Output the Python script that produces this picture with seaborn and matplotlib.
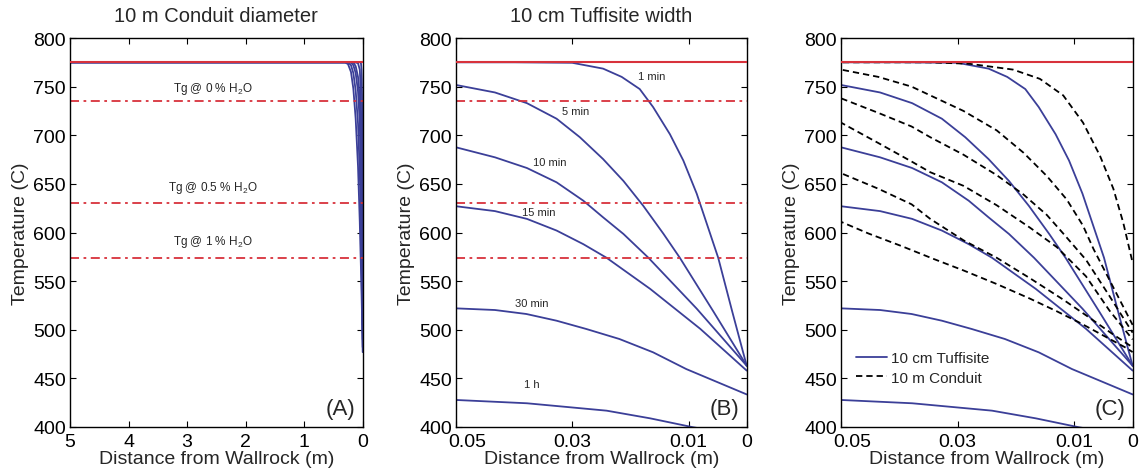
import numpy as np
import pandas as pd
import matplotlib
matplotlib.use("Agg")
import matplotlib.pyplot as plt
from matplotlib.lines import Line2D
from matplotlib.transforms import ScaledTranslation
import seaborn as sns

# ---------------- data ----------------
# Tuffisite (10 cm) temperature profiles: distance from wallrock (m), temperature (C)
t1_x = [0.05, 0.04, 0.03, 0.0247, 0.0215, 0.0184, 0.0161, 0.0132, 0.0109, 0.0086, 0.0063, 0.0049, 0.0025, 0.0]
t1_T = [775, 775, 774.5, 768.5, 760, 747.5, 729, 701, 674, 640, 599, 574, 519, 463]
t5_x = [0.05, 0.0433, 0.0378, 0.0327, 0.0287, 0.0247, 0.0212, 0.0178, 0.0143, 0.0115, 0.0057, 0.0]
t5_T = [751.7, 744, 733, 717, 698, 675.5, 653, 627.5, 598.5, 574, 518.5, 463]
t10_x = [0.05, 0.0433, 0.0378, 0.0327, 0.0281, 0.0247, 0.0212, 0.0169, 0.0086, 0.0]
t10_T = [687.6, 677.3, 666.3, 651.6, 632.7, 615.6, 598.5, 574, 521.7, 463]
t15_x = [0.05, 0.0433, 0.0378, 0.0327, 0.0281, 0.0241, 0.0166, 0.0080, 0.0]
t15_T = [627, 622, 614, 602, 588, 574, 542, 501, 458]
t30_x = [0.05, 0.0433, 0.0379, 0.0327, 0.0276, 0.0219, 0.0161, 0.0104, 0.0]
t30_T = [522, 520.3, 516.2, 509.3, 500.8, 490.5, 476.8, 459.6, 433.5]
t60_x = [0.05, 0.0378, 0.0241, 0.0166, 0.0092, 0.0080]
t60_T = [427.8, 424.4, 416.8, 408.9, 399.7, 398.5]

tuff_labels = ["1 min", "5 min", "10 min", "15 min", "30 min", "1 h"]
tuff_label_x = [0.0163, 0.0294, 0.0338, 0.0358, 0.0370, 0.0370]
tuff_label_T = [761, 725, 673, 621, 528, 444]

# Conduit (10 m) temperature profiles
c1_x = [5.0, 0.05, 0.035, 0.028, 0.0205, 0.0159, 0.0119, 0.0085, 0.0056, 0.0033, 0.0016, 0.0]
c1_T = [775, 775, 775, 773.5, 767.5, 758, 741, 713, 679, 645, 610, 569]
c2_x = [5.0, 0.12, 0.08, 0.05, 0.0436, 0.0379, 0.0347, 0.029, 0.0233, 0.0187, 0.0147, 0.0113, 0.0085, 0.0067, 0.003, 0.0]
c2_T = [775, 775, 774, 767.5, 760, 750, 741, 725, 705, 682, 658, 634, 607, 583, 540, 505]
c3_x = [5.0, 0.16, 0.12, 0.08, 0.05, 0.0436, 0.0379, 0.0347, 0.029, 0.0233, 0.0187, 0.0147, 0.0119, 0.008, 0.004, 0.0]
c3_T = [775, 775, 771, 760, 738, 723, 709, 698, 680, 659, 639, 618, 599, 572, 535, 497]
c4_x = [5.0, 0.2, 0.16, 0.12, 0.08, 0.05, 0.0436, 0.0379, 0.0347, 0.029, 0.0233, 0.0176, 0.013, 0.008, 0.004, 0.0]
c4_T = [775, 775, 772, 764, 745, 713, 692, 673, 662, 648, 628, 605, 585, 555, 520, 490]
c5_x = [5.0, 0.25, 0.2, 0.16, 0.12, 0.08, 0.05, 0.0436, 0.0379, 0.0347, 0.029, 0.0233, 0.0176, 0.0119, 0.0073, 0.0033, 0.0]
c5_T = [775, 775, 772, 764, 746, 712, 661, 645, 629, 614, 592, 574, 553, 531, 512, 495, 482]
c6_x = [5.0, 0.3, 0.25, 0.2, 0.16, 0.12, 0.08, 0.05, 0.0453, 0.0396, 0.0342, 0.029, 0.0233, 0.0176, 0.013, 0.009, 0.005, 0.001, 0.0]
c6_T = [775, 775, 773, 765, 748, 717, 668, 611, 599, 586, 573, 561, 547, 532, 519, 507, 494, 481, 477]

T_init = 775
Tg_values = [735, 630, 574]
Tg_labels = ["Tg @ 0 % H$_2$O", "Tg @ 0.5 % H$_2$O", "Tg @ 1 % H$_2$O"]
Tg_label_T = [749, 647, 591]

titles = ["10 m Conduit diameter", "10 cm Tuffisite width", ""]
panel_tags = ["(A)", "(B)", "(C)"]
xlabel = "Distance from Wallrock (m)"
ylabel = "Temperature (C)"
yticks = [400, 450, 500, 550, 600, 650, 700, 750, 800]
xticksA = [5, 4, 3, 2, 1, 0]
xticksB = [0.05, 0.03, 0.01, 0]
xticklabelsB = ["0.05", "0.03", "0.01", "0"]
legend_labels = ["10 cm Tuffisite", "10 m Conduit"]

tuff = [(t1_x, t1_T), (t5_x, t5_T), (t10_x, t10_T), (t15_x, t15_T), (t30_x, t30_T), (t60_x, t60_T)]
cond = [(c1_x, c1_T), (c2_x, c2_T), (c3_x, c3_T), (c4_x, c4_T), (c5_x, c5_T), (c6_x, c6_T)]

# ---------------- style ----------------
sns.set_style("ticks")
plt.rcParams["font.family"] = ["Liberation Sans", "DejaVu Sans"]
plt.rcParams["mathtext.fontset"] = "custom"
plt.rcParams["mathtext.rm"] = "Liberation Sans"
plt.rcParams["mathtext.it"] = "Liberation Sans:italic"
plt.rcParams["xtick.direction"] = "in"
plt.rcParams["ytick.direction"] = "in"

BLUE = "#3b3f98"
RED = "#d8323c"
DASHDOT = (0, (5, 2.5, 1.5, 2.5))
DASH = (0, (3.5, 2.2))

fig = plt.figure(figsize=(11.44, 4.77), dpi=100)
W, H = 1144, 477
ax_px = [(70, 292.7), (456, 290.7), (841, 291.6)]
axes = [fig.add_axes([l / W, 1 - 428 / H, w / W, 389 / H]) for l, w in ax_px]

def curve(ax, x, y, **kw):
    sns.lineplot(x=x, y=y, ax=ax, sort=False, estimator=None, legend=False, **kw)

# Panel A
axA = axes[0]
for x, y in cond:
    curve(axA, x, y, color=BLUE, lw=1.3)
# Panel B
axB = axes[1]
for x, y in tuff:
    curve(axB, x, y, color=BLUE, lw=1.3)
for lab, lx, ly in zip(tuff_labels, tuff_label_x, tuff_label_T):
    axB.text(lx, ly, lab, fontsize=8, ha="center", va="center")
# Panel C
axC = axes[2]
for x, y in tuff:
    curve(axC, x, y, color=BLUE, lw=1.3)
for x, y in cond:
    curve(axC, x, y, color="black", lw=1.3, linestyle=DASH)

for i, ax in enumerate(axes):
    ax.axhline(T_init, color=RED, lw=1.5, zorder=3)
    if i < 2:
        for tg in Tg_values:
            ax.axhline(tg, color=RED, lw=1.3, linestyle=DASHDOT)
    ax.set_ylim(400, 800)
    ax.set_yticks(yticks)
    if i == 0:
        ax.set_xlim(5, 0)
        ax.set_xticks(xticksA)
        ax.set_xticklabels([str(t) for t in xticksA])
    else:
        ax.set_xlim(0.05, 0)
        ax.set_xticks(xticksB)
        ax.set_xticklabels(xticklabelsB)
    ax.tick_params(axis="both", which="both", top=True, right=True, labelsize=14,
                   length=4, width=0.8, pad=4, colors="black")
    ax.tick_params(axis="y", pad=3)
    for s in ax.spines.values():
        s.set_visible(True)
        s.set_linewidth(1.0)
        s.set_color("black")
    ax.set_xlabel(xlabel, fontsize=14, labelpad=0)
    ax.set_ylabel(ylabel, fontsize=14, labelpad=3)
    if titles[i]:
        ax.set_title(titles[i], fontsize=14.5, pad=12)
    ax.text(0.975, 0.02, panel_tags[i], transform=ax.transAxes, fontsize=16,
            ha="right", va="bottom")

for tg_lab, tgy in zip(Tg_labels, Tg_label_T):
    axA.text(2.56, tgy, tg_lab, fontsize=8.5, ha="center", va="center")

# shift the "0.05" labels slightly right as in the reference
fig.canvas.draw()
for ax in axes[1:]:
    lab = ax.get_xticklabels()[0]
    lab.set_transform(lab.get_transform() + ScaledTranslation(11 / 100, 0, fig.dpi_scale_trans))

handles = [Line2D([], [], color=BLUE, lw=1.3),
           Line2D([], [], color="black", lw=1.3, linestyle=DASH)]
axC.legend(handles, legend_labels, loc="lower left", bbox_to_anchor=(0.02, 0.085),
           frameon=False, fontsize=11, handlelength=2.0, handletextpad=0.3,
           labelspacing=0.35, borderaxespad=0.2)

fig.savefig("out.png", dpi=100)
